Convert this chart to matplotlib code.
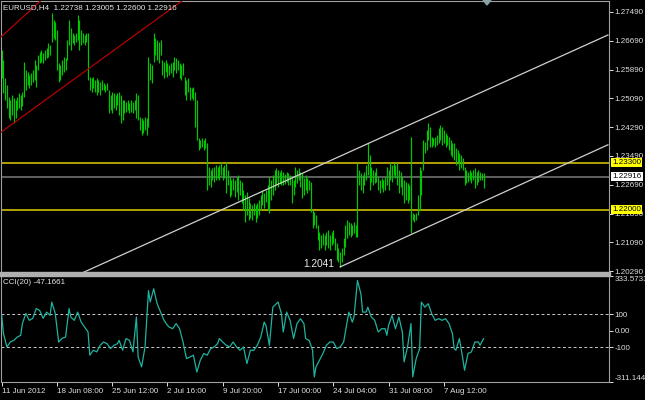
import numpy as np
import matplotlib.pyplot as plt
from matplotlib.patches import Rectangle, Polygon

W, H = 645, 400

# EURUSD H4 bars (one entry per bar)
highs = [
    1.2643, 1.2616, 1.2566, 1.2546, 1.2513, 1.2505, 1.2518, 1.2510, 1.2505, 1.2513,
    1.2524, 1.2518, 1.2527, 1.2610, 1.2588, 1.2582, 1.2574, 1.2580, 1.2588, 1.2616,
    1.2602, 1.2630, 1.2638, 1.2643, 1.2635, 1.2643, 1.2649, 1.2663, 1.2657, 1.2746,
    1.2727, 1.2721, 1.2699, 1.2607, 1.2602, 1.2616, 1.2624, 1.2621, 1.2671, 1.2727,
    1.2705, 1.2691, 1.2685, 1.2691, 1.2741, 1.2727, 1.2699, 1.2691, 1.2685, 1.2691,
    1.2691, 1.2568, 1.2566, 1.2568, 1.2560, 1.2566, 1.2560, 1.2555, 1.2560, 1.2552,
    1.2546, 1.2552, 1.2532, 1.2518, 1.2527, 1.2524, 1.2518, 1.2524, 1.2527, 1.2518,
    1.2505, 1.2505, 1.2499, 1.2505, 1.2496, 1.2505, 1.2499, 1.2505, 1.2524, 1.2518,
    1.2457, 1.2455, 1.2449, 1.2457, 1.2455, 1.2624, 1.2607, 1.2602, 1.2691, 1.2677,
    1.2671, 1.2666, 1.2671, 1.2616, 1.2610, 1.2616, 1.2607, 1.2602, 1.2607, 1.2610,
    1.2624, 1.2621, 1.2616, 1.2607, 1.2602, 1.2607, 1.2568, 1.2560, 1.2566, 1.2541,
    1.2538, 1.2541, 1.2527, 1.2505, 1.2399, 1.2393, 1.2399, 1.2393, 1.2399, 1.2385,
    1.2319, 1.2310, 1.2316, 1.2319, 1.2324, 1.2319, 1.2324, 1.2332, 1.2319, 1.2324,
    1.2332, 1.2310, 1.2291, 1.2282, 1.2288, 1.2282, 1.2291, 1.2296, 1.2282, 1.2277,
    1.2255, 1.2241, 1.2249, 1.2232, 1.2218, 1.2213, 1.2218, 1.2213, 1.2218, 1.2227,
    1.2241, 1.2255, 1.2246, 1.2255, 1.2268, 1.2291, 1.2282, 1.2296, 1.2310, 1.2316,
    1.2310, 1.2305, 1.2310, 1.2305, 1.2299, 1.2305, 1.2302, 1.2296, 1.2291, 1.2282,
    1.2319, 1.2310, 1.2316, 1.2305, 1.2302, 1.2288, 1.2296, 1.2288, 1.2282, 1.2277,
    1.2199, 1.2193, 1.2185, 1.2157, 1.2138, 1.2130, 1.2135, 1.2130, 1.2138, 1.2143,
    1.2130, 1.2138, 1.2143, 1.2121, 1.2107, 1.2093, 1.2082, 1.2093, 1.2121, 1.2157,
    1.2171, 1.2166, 1.2163, 1.2157, 1.2166, 1.2157, 1.2330, 1.2310, 1.2302, 1.2296,
    1.2305, 1.2324, 1.2385, 1.2352, 1.2319, 1.2310, 1.2305, 1.2316, 1.2291, 1.2282,
    1.2288, 1.2282, 1.2291, 1.2319, 1.2310, 1.2332, 1.2324, 1.2330, 1.2324, 1.2330,
    1.2310, 1.2305, 1.2291, 1.2282, 1.2277, 1.2274, 1.2268, 1.2402, 1.2191, 1.2188,
    1.2191, 1.2241, 1.2319, 1.2310, 1.2393, 1.2388, 1.2421, 1.2441, 1.2430, 1.2402,
    1.2399, 1.2402, 1.2407, 1.2427, 1.2435, 1.2430, 1.2421, 1.2413, 1.2407, 1.2402,
    1.2393, 1.2385, 1.2385, 1.2371, 1.2366, 1.2357, 1.2352, 1.2343, 1.2319, 1.2310,
    1.2305, 1.2310, 1.2305, 1.2310, 1.2316, 1.2305, 1.2310, 1.2305, 1.2302, 1.23005,
]
lows = [
    1.2566, 1.2524, 1.2505, 1.2482, 1.2455, 1.2449, 1.2463, 1.2441, 1.2455, 1.2477,
    1.2482, 1.2477, 1.2488, 1.2513, 1.2532, 1.2546, 1.2538, 1.2546, 1.2555, 1.2560,
    1.2541, 1.2588, 1.2607, 1.2610, 1.2607, 1.2616, 1.2621, 1.2624, 1.2630, 1.2666,
    1.2677, 1.2671, 1.2588, 1.2555, 1.2560, 1.2574, 1.2582, 1.2588, 1.2616, 1.2657,
    1.2643, 1.2663, 1.2657, 1.2666, 1.2671, 1.2643, 1.2657, 1.2663, 1.2657, 1.2666,
    1.2560, 1.2532, 1.2527, 1.2538, 1.2527, 1.2518, 1.2527, 1.2518, 1.2532, 1.2532,
    1.2527, 1.2532, 1.2468, 1.2477, 1.2468, 1.2482, 1.2477, 1.2491, 1.2463, 1.2441,
    1.2449, 1.2468, 1.2471, 1.2477, 1.2468, 1.2471, 1.2468, 1.2477, 1.2455, 1.2449,
    1.2421, 1.2407, 1.2413, 1.2421, 1.2407, 1.2430, 1.2560, 1.2552, 1.2610, 1.2630,
    1.2616, 1.2607, 1.2630, 1.2574, 1.2566, 1.2582, 1.2568, 1.2574, 1.2580, 1.2568,
    1.2588, 1.2580, 1.2588, 1.2566, 1.2560, 1.2574, 1.2518, 1.2505, 1.2527, 1.2505,
    1.2510, 1.2505, 1.2430, 1.2393, 1.2366, 1.2371, 1.2374, 1.2366, 1.2371, 1.2255,
    1.2268, 1.2263, 1.2282, 1.2277, 1.2282, 1.2288, 1.2282, 1.2296, 1.2282, 1.2288,
    1.2246, 1.2268, 1.2235, 1.2241, 1.2255, 1.2235, 1.2249, 1.2227, 1.2241, 1.2218,
    1.2199, 1.2166, 1.2185, 1.2171, 1.2177, 1.2171, 1.2185, 1.2166, 1.2177, 1.2185,
    1.2199, 1.2213, 1.2204, 1.2221, 1.2199, 1.2191, 1.2227, 1.2241, 1.2255, 1.2268,
    1.2263, 1.2274, 1.2268, 1.2268, 1.2271, 1.2277, 1.2268, 1.2268, 1.2218, 1.2241,
    1.2263, 1.2274, 1.2282, 1.2263, 1.2232, 1.2241, 1.2255, 1.2246, 1.2255, 1.2193,
    1.2149, 1.2157, 1.2149, 1.2116, 1.2088, 1.2093, 1.2102, 1.2088, 1.2102, 1.2093,
    1.2088, 1.2102, 1.2107, 1.2088, 1.2060, 1.2054, 1.2041, 1.2054, 1.2074, 1.2096,
    1.2121, 1.2130, 1.2124, 1.2130, 1.2135, 1.2124, 1.2124, 1.2268, 1.2255, 1.2246,
    1.2268, 1.2282, 1.2296, 1.2255, 1.2277, 1.2268, 1.2274, 1.2277, 1.2255, 1.2246,
    1.2260, 1.2249, 1.2255, 1.2268, 1.2255, 1.2282, 1.2277, 1.2296, 1.2288, 1.2268,
    1.2246, 1.2263, 1.2241, 1.2218, 1.2227, 1.2218, 1.2227, 1.2135, 1.2171, 1.2166,
    1.2171, 1.2185, 1.2199, 1.2241, 1.2310, 1.2357, 1.2366, 1.2393, 1.2374, 1.2374,
    1.2380, 1.2374, 1.2380, 1.2385, 1.2393, 1.2380, 1.2385, 1.2374, 1.2380, 1.2366,
    1.2352, 1.2346, 1.2338, 1.2324, 1.2332, 1.2310, 1.2316, 1.2310, 1.2268, 1.2274,
    1.2277, 1.2282, 1.2274, 1.2282, 1.2260, 1.2268, 1.2277, 1.2282, 1.2282, 1.2260,
]

# CCI(20) readings (bar index, value)
cci_points = [
    (0, 94), (1, -15), (3, -98), (5, -68), (7, -58), (9, -38), (11, -27), (12, 45),
    (14, 106), (16, 64), (18, 76), (20, 136), (22, 124), (24, 76), (26, 114), (28, 94),
    (29, 175), (31, 106), (33, -68), (35, -45), (37, -38), (39, 136), (40, 84), (42, 64),
    (44, 114), (46, 53), (48, 23), (50, -7), (51, -148), (53, -118), (55, -128), (57, -88),
    (59, -68), (61, -78), (63, -108), (65, -88), (67, -78), (68, -58), (70, -118), (72, -47),
    (74, -58), (76, -128), (78, 84), (79, -159), (81, -219), (83, -98), (85, 245), (86, 175),
    (88, 256), (90, 165), (92, 114), (94, 64), (96, 33), (97, 23), (99, 13), (101, 44),
    (103, 13), (105, -68), (107, -169), (109, -159), (111, -148), (113, -250), (115, -179),
    (117, -138), (119, -148), (121, -108), (123, -98), (125, -78), (126, -47), (128, -68),
    (130, -88), (132, -98), (134, -68), (136, -98), (138, -118), (140, -98), (142, -199),
    (144, -118), (146, -118), (148, -88), (150, -38), (152, 53), (153, 33), (155, -88),
    (157, 144), (159, 165), (160, 175), (162, 104), (163, -7), (165, 114), (167, 64),
    (169, -47), (171, 44), (173, 74), (175, 44), (176, -47), (178, -58), (180, -118),
    (181, -280), (182, -219), (184, -179), (186, -138), (188, -88), (190, -68), (192, -68),
    (194, -108), (196, -98), (198, -68), (200, 53), (201, 114), (203, 53), (204, 84),
    (206, 306), (208, 225), (209, 114), (211, 114), (212, 144), (214, 84), (216, 64),
    (218, -7), (220, 13), (222, 13), (223, -27), (224, 33), (226, 94), (228, 13), (230, 84),
    (232, -7), (233, -189), (235, -98), (237, 44), (238, -280), (240, -169), (242, -108),
    (243, 175), (245, 144), (247, 165), (249, 104), (251, 64), (253, 74), (255, 64),
    (257, 74), (259, 44), (261, -17), (262, -108), (263, -118), (265, -47), (267, -169),
    (268, -240), (270, -138), (272, -128), (274, -68), (276, -68), (277, -88), (279, -47.1661),
]

price_ticks = [1.27490, 1.26690, 1.25890, 1.25090, 1.24290, 1.23490,
               1.22690, 1.21890, 1.21090, 1.20290]
time_idx = [0, 32, 64, 96, 128, 160, 192, 224, 256]
time_labels = ["11 Jun 2012", "18 Jun 08:00", "25 Jun 12:00", "2 Jul 16:00",
               "9 Jul 20:00", "17 Jul 00:00", "24 Jul 04:00", "31 Jul 08:00",
               "7 Aug 12:00"]
yellow_levels = [1.23300, 1.22000]
last_price = 1.22916
cci_ticks = [333.5733, 100, 0, -100, -311.144]
cci_tick_labels = ["333.5733", "100", "0.00", "-100", "-311.144"]
red_lines = [((-1, 1.2677), (23, 1.2782)), ((-1, 1.2413), (105, 1.2782))]
white_lines = [((46.5, 1.2024), (351, 1.2685)), ((196, 1.2041), (351, 1.2380))]
low_bar, low_price = 196, 1.2041
title = "EURUSD,H4  1.22738 1.23005 1.22600 1.22916"
cci_title = "CCI(20) -47.1661"

plt.rcParams['font.family'] = ['Liberation Sans', 'DejaVu Sans']
FS = 5.8
GRID = '#a0a0a0'


def px_box(l, t, r, b):
    return [l / W, 1 - b / H, (r - l) / W, (b - t) / H]


# bar 0 sits at x=1.7px, 1.727px per bar
x_lo = (1 - 1.7) / 1.727
x_hi = (609 - 1.7) / 1.727

fig = plt.figure(figsize=(W / 100, H / 100), dpi=100, facecolor='black')

ax1 = fig.add_axes(px_box(1, 1, 609, 272), facecolor='black')
ax2 = fig.add_axes(px_box(1, 276, 609, 382), facecolor='black')

# price pane
n = len(highs)
ax1.vlines(np.arange(n), lows, highs, color='#00c800', lw=0.85, zorder=3)
for lv in yellow_levels:
    ax1.axhline(lv, color='#bfb000', lw=1.3, zorder=2)
ax1.axhline(last_price, color='#7a7a7a', lw=1.1, zorder=2)
for (x0, y0), (x1, y1) in red_lines:
    ax1.plot([x0, x1], [y0, y1], color='#b40000', lw=0.9, zorder=4)
for (x0, y0), (x1, y1) in white_lines:
    ax1.plot([x0, x1], [y0, y1], color='#d0d0d0', lw=0.9, zorder=4)

ax1.set_xlim(x_lo, x_hi)
ax1.set_ylim(1.27823 - 272 / 3600, 1.27823 - 1 / 3600)
ax1.set_xticks([])
ax1.yaxis.tick_right()
ax1.set_yticks(price_ticks)
ax1.set_yticklabels(["%.5f" % p for p in price_ticks])
ax1.tick_params(axis='y', colors='#e0e0e0', labelsize=FS, length=3, width=0.7, pad=1)
for s in ['top', 'left', 'right']:
    ax1.spines[s].set_color(GRID)
    ax1.spines[s].set_linewidth(0.8)
ax1.spines['bottom'].set_visible(False)

ax1.annotate("1.2041", xy=(low_bar, low_price), xytext=(-4, 2), textcoords='offset points',
             ha='right', va='center', color='#e8e8e8', fontsize=7.3, zorder=5)

for lv in yellow_levels:
    ax1.annotate("%.5f" % lv, xy=(1, lv), xycoords=('axes fraction', 'data'),
                 xytext=(2.4, 0), textcoords='offset points', ha='left', va='center',
                 fontsize=FS, color='black', annotation_clip=False, zorder=6,
                 bbox=dict(boxstyle='square,pad=0.12', fc='#ffff00', ec='none'))
ax1.annotate("%.5f" % last_price, xy=(1, last_price), xycoords=('axes fraction', 'data'),
             xytext=(2.4, 0), textcoords='offset points', ha='left', va='center',
             fontsize=FS, color='black', annotation_clip=False, zorder=6,
             bbox=dict(boxstyle='square,pad=0.12', fc='white', ec='none'))

# CCI pane
cci_idx, cci_val = zip(*cci_points)
ax2.plot(cci_idx, cci_val, color='#20b2a0', lw=0.9, zorder=3)
for lv in [100, -100]:
    ax2.axhline(lv, color='#c8c8c8', lw=0.7, ls=(0, (3, 2.5)), zorder=2)
ax2.set_xlim(x_lo, x_hi)
ax2.set_ylim(-311.144, 333.5733)
ax2.yaxis.tick_right()
ax2.set_yticks(cci_ticks)
ax2.set_yticklabels(cci_tick_labels)
ax2.tick_params(axis='y', colors='#e0e0e0', labelsize=FS, length=3, width=0.7, pad=1)
labs = ax2.get_yticklabels()
labs[0].set_va('top')
labs[-1].set_va('bottom')
ax2.set_xticks(time_idx)
ax2.set_xticklabels(time_labels, ha='left')
ax2.tick_params(axis='x', colors='#e0e0e0', labelsize=FS, length=3, width=0.7, pad=1)
for s in ['bottom', 'left', 'right']:
    ax2.spines[s].set_color(GRID)
    ax2.spines[s].set_linewidth(0.8)
ax2.spines['top'].set_visible(False)

# pane separator and chart-shift marker
fig.patches.append(Rectangle((0, 1 - 275.5 / H), 609.5 / W, 3.2 / H,
                             transform=fig.transFigure, color='#b0b0b0', zorder=10))
fig.patches.append(Polygon([(483 / W, 1), (491 / W, 1), (487 / W, 1 - 5 / H)],
                           closed=True, transform=fig.transFigure, color='#8aa4a4', zorder=10))

fig.text(3 / W, 1 - 8 / H, title, color='#e8e8e8', fontsize=FS, va='center', ha='left')
fig.text(3 / W, 1 - 283 / H, cci_title, color='#e8e8e8', fontsize=FS, va='center', ha='left')

fig.savefig('out.png', dpi=100, facecolor='black')
